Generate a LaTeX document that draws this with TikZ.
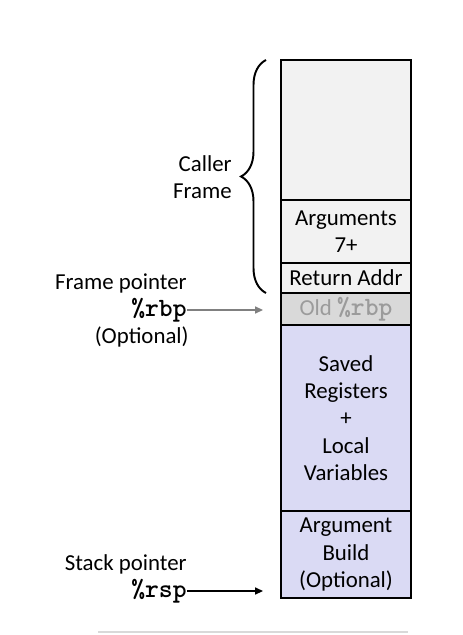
\documentclass[tikz,border=0pt]{standalone}
\usepackage{fontspec}
\setmainfont{Carlito}
\usetikzlibrary{positioning,arrows.meta,decorations.pathreplacing}

\definecolor{framegray}{RGB}{242,242,242}
\definecolor{oldgray}{RGB}{217,217,217}
\definecolor{oldtext}{RGB}{155,155,155}
\definecolor{calleeblue}{RGB}{218,218,244}

\newcommand{\reg}[1]{{\fontsize{15pt}{15.6pt}\selectfont\texttt{\textbf{\%#1}}}}

\tikzset{
  cell/.style={draw, line width=1.1pt, minimum width=26mm, inner sep=0pt, outer sep=0pt, align=center},
  lbl/.style={inner sep=0pt, align=right, anchor=east},
  ptr/.style={-{Triangle[length=4.5pt,width=4pt]}, line width=0.8pt},
}

\begin{document}
\begin{tikzpicture}[x=0.2mm, y=-0.2mm, font=\fontsize{13pt}{15.6pt}\selectfont]
\useasboundingbox (0,0) rectangle (463,635);

\node[cell, fill=framegray, minimum height=28mm, anchor=north] (caller) at (346,60) {};
\node[cell, fill=framegray, minimum height=12.6mm, below=0pt of caller] (args) {Arguments\\7+};
\node[cell, fill=framegray, minimum height=6mm, below=0pt of args] (ret) {Return Addr};
\node[cell, fill=oldgray, text=oldtext, minimum height=6.4mm, below=0pt of ret] (oldrbp) {Old \reg{rbp}};
\node[cell, fill=calleeblue, minimum height=37.2mm, below=0pt of oldrbp] (saved) {Saved\\Registers\\+\\Local\\Variables};
\node[cell, fill=calleeblue, minimum height=17.4mm, below=0pt of saved] (argbuild) {Argument\\Build\\(Optional)};

\draw[decorate, decoration={brace, amplitude=5mm}, line width=1.1pt]
  ([xshift=-3mm]ret.south west) -- ([xshift=-3mm]caller.north west);
\node[lbl] (callerlbl) at (232,177) {Caller\\Frame};

\node[lbl] (fplbl) at (187,283) {Frame pointer};
\node[lbl] (rbp) at (187,310) {\reg{rbp}};
\node[lbl] (fpopt) at (189,337) {(Optional)};
\coordinate (rbptip) at (263,310);
\draw[ptr, draw=gray, fill=gray] (rbp.east) -- (rbptip);

\node[lbl] (splbl) at (187,564) {Stack pointer};
\node[lbl] (rsp) at (187,591) {\reg{rsp}};
\coordinate (rsptip) at (263,591);
\draw[ptr] (rsp.east) -- (rsptip);

\draw[gray!30, line width=1.2pt] (98,632) -- (408,632);
\end{tikzpicture}
\end{document}
